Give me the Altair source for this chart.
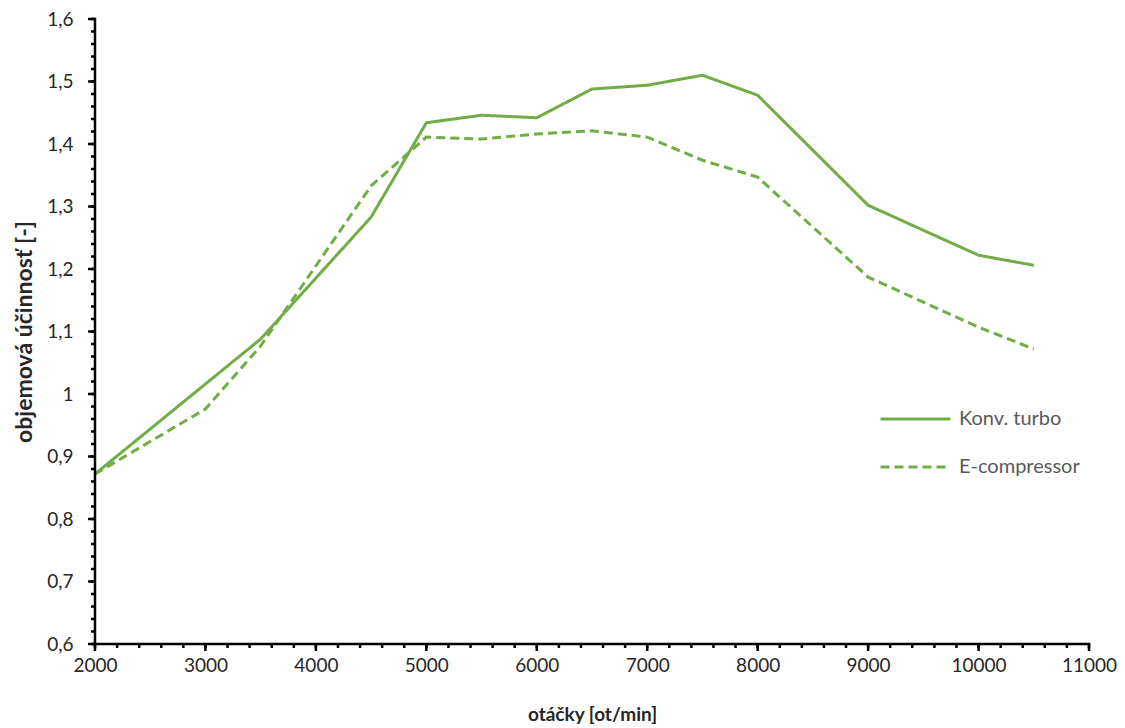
import altair as alt
import pandas as pd

rpm = [2000, 3000, 3500, 4500, 5000, 5500, 6000, 6500, 7000, 7500, 8000, 9000, 10000, 10500]
konv_turbo = [0.872, 1.016, 1.088, 1.283, 1.434, 1.446, 1.442, 1.488, 1.494, 1.510, 1.478, 1.302, 1.222, 1.206]
e_compressor = [0.872, 0.976, 1.077, 1.333, 1.411, 1.408, 1.416, 1.421, 1.411, 1.374, 1.347, 1.187, 1.107, 1.072]
series_names = ["Konv. turbo", "E-compressor"]

x_min, x_max = 2000, 11000
y_min, y_max = 0.6, 1.6
x_major = list(range(2000, 11001, 1000))
x_minor = list(range(2000, 11001, 200))
y_major = [round(0.6 + 0.1 * i, 1) for i in range(11)]
y_minor = [round(0.6 + 0.02 * i, 2) for i in range(51)]

rows = []
for name, vals in zip(series_names, [konv_turbo, e_compressor]):
    for r, v in zip(rpm, vals):
        rows.append({"rpm": r, "val": v, "series": name})
df = pd.DataFrame(rows)

GREEN = "#70AD47"
FONT = "Lato"
TXT = "#262626"
W, H = 994, 625
X_TITLE = "otáčky [ot/min]"
Y_TITLE = "objemová účinnosť [-]"

x_scale = alt.Scale(domain=[x_min, x_max], nice=False, zero=False)
y_scale = alt.Scale(domain=[y_min, y_max], nice=False, zero=False)

x_axis = alt.Axis(
    values=x_major,
    format="d",
    ticks=False,
    domain=False,
    grid=False,
    labelOverlap=False,
    labelFlush=False,
    labelPadding=12,
    titlePadding=30,
    labelFont=FONT, labelFontSize=19, labelColor=TXT,
    titleFont=FONT, titleFontSize=19, titleFontWeight="bold", titleColor=TXT,
)
y_axis = alt.Axis(
    values=y_major,
    labelExpr="replace(format(datum.value, '~g'), '.', ',')",
    ticks=False,
    domain=False,
    grid=False,
    labelOverlap=False,
    labelFlush=False,
    labelPadding=22,
    titlePadding=10,
    labelFont=FONT, labelFontSize=19, labelColor=TXT,
    titleFont=FONT, titleFontSize=23, titleFontWeight="bold", titleColor=TXT,
)

lines = alt.Chart(df).mark_line(strokeWidth=3, color=GREEN).encode(
    x=alt.X("rpm:Q", title=X_TITLE, scale=x_scale, axis=x_axis),
    y=alt.Y("val:Q", title=Y_TITLE, scale=y_scale, axis=y_axis),
    strokeDash=alt.StrokeDash(
        "series:N",
        scale=alt.Scale(domain=series_names, range=[[1, 0], [9, 5]]),
        sort=series_names,
        legend=alt.Legend(
            title=None,
            orient="none",
            legendX=784,
            legendY=390,
            symbolType="stroke",
            symbolSize=4900,
            symbolStrokeColor=GREEN,
            symbolStrokeWidth=3,
            clipHeight=20,
            rowPadding=28,
            labelOffset=7,
            labelFont=FONT,
            labelFontSize=20,
            labelColor="#595959",
        ),
    ),
    order=alt.Order("rpm:Q"),
)

tick_style = dict(color="black", strokeWidth=2.5)

# x axis ticks
x_major_ticks = alt.Chart(pd.DataFrame({"v": x_major})).mark_rule(**tick_style).encode(
    x=alt.X("v:Q", title=X_TITLE, scale=x_scale),
    y=alt.value(H),
    y2=alt.value(H + 7),
)
x_minor_ticks = alt.Chart(pd.DataFrame({"v": x_minor})).mark_rule(**tick_style).encode(
    x=alt.X("v:Q", title=X_TITLE, scale=x_scale),
    y=alt.value(H),
    y2=alt.value(H + 4),
)
# y axis ticks
y_major_ticks = alt.Chart(pd.DataFrame({"v": y_major})).mark_rule(**tick_style).encode(
    y=alt.Y("v:Q", title=Y_TITLE, scale=y_scale),
    x=alt.value(0),
    x2=alt.value(-7),
)
y_minor_ticks = alt.Chart(pd.DataFrame({"v": y_minor})).mark_rule(**tick_style).encode(
    y=alt.Y("v:Q", title=Y_TITLE, scale=y_scale),
    x=alt.value(0),
    x2=alt.value(-4),
)
# axis lines
x_line = alt.Chart(pd.DataFrame({"a": [x_min], "b": [x_max], "c": [y_min]})).mark_rule(
    strokeCap="square", **tick_style
).encode(
    x=alt.X("a:Q", title=X_TITLE, scale=x_scale),
    x2="b:Q",
    y=alt.Y("c:Q", title=Y_TITLE, scale=y_scale),
)
y_line = alt.Chart(pd.DataFrame({"a": [x_min], "b": [y_min], "c": [y_max]})).mark_rule(
    strokeCap="square", **tick_style
).encode(
    x=alt.X("a:Q", title=X_TITLE, scale=x_scale),
    y=alt.Y("b:Q", title=Y_TITLE, scale=y_scale),
    y2="c:Q",
)

chart = alt.layer(
    lines, x_major_ticks, x_minor_ticks, y_major_ticks, y_minor_ticks, x_line, y_line
).properties(
    width=W,
    height=H,
    padding={"left": 5, "top": 2, "right": 0, "bottom": 0},
).configure_view(
    strokeWidth=0
)

chart.save("out.html", embed_options={"renderer": "svg", "actions": False})
